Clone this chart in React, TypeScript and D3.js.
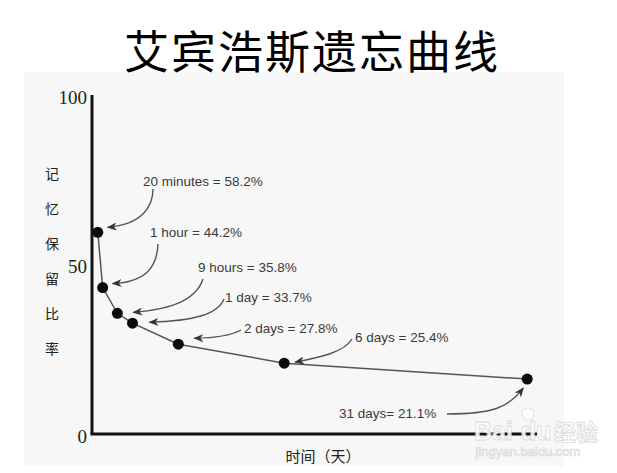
import React from "react";
import * as d3 from "d3";

// ---- data ----
const intervals = ["20 minutes", "1 hour", "9 hours", "1 day", "2 days", "6 days", "31 days"];
const retentionLabel = [58.2, 44.2, 35.8, 33.7, 27.8, 25.4, 21.1];
// plotted positions (y in % on the axis, x in 0-100 along the time axis)
const pointPos = [1.3, 2.4, 5.7, 9.1, 19.4, 43.2, 97.8];
const pointValue = [59.5, 43.2, 35.6, 32.7, 26.5, 20.9, 16.2];
const yTicks = [0, 50, 100];
const yLabelChars = ["记", "忆", "保", "留", "比", "率"];

// ---- annotation layout (pixels) ----
const annLayout = [
  { tx: 143, ty: 181, sep: " = ", path: (p: [number, number]) => `M153,189 C153,207 142,224 ${p[0] + 10},${p[1] - 5}` },
  { tx: 150, ty: 232, sep: " = ", path: (p: [number, number]) => `M158,244 C157,268 145,282 ${p[0] + 10},${p[1] - 4}` },
  { tx: 198, ty: 267, sep: " = ", path: (p: [number, number]) => `M203,279 C196,300 172,309 ${p[0] + 16},${p[1] - 1}` },
  { tx: 225, ty: 297, sep: " = ", path: (p: [number, number]) => `M224,299 C218,314 195,321 ${p[0] + 17},${p[1] - 1}` },
  { tx: 244, ty: 328, sep: " = ", path: (p: [number, number]) => `M241,330 C230,336 215,338 ${p[0] + 16},${p[1] - 6}` },
  { tx: 355, ty: 337, sep: " = ", path: (p: [number, number]) => `M352,339 C344,352 322,357 ${p[0] + 11},${p[1] - 1}` },
  { tx: 339, ty: 413, sep: "= ", path: (p: [number, number]) => `M447,414 C492,414 508,408 ${p[0] - 4},${p[1] + 9}` },
];

export default function App() {
  const W = 617, H = 473;
  const x0 = 92, x1 = 537, yBottom = 434, yTop = 95;
  const x = d3.scaleLinear().domain([0, 100]).range([x0, x1]);
  const y = d3.scaleLinear().domain([0, 100]).range([yBottom, yTop]);
  const pts: [number, number][] = pointPos.map((p, i) => [x(p), y(pointValue[i])]);
  const line = d3.line<[number, number]>()(pts) || "";

  return (
    <svg width={W} height={H} style={{ position: "absolute", left: 0, top: 0, background: "#fff" }}>
      <defs>
        <marker id="arr" viewBox="0 0 10 8" refX="9" refY="4" markerWidth="10" markerHeight="8"
          markerUnits="userSpaceOnUse" orient="auto">
          <path d="M0,0 L10,4 L0,8 L3,4 Z" fill="#333" />
        </marker>
      </defs>
      <rect x={24} y={72} width={540} height={394} fill="#f7f7f7" />
      <text x={312} y={49} textAnchor="middle" dominantBaseline="central"
        fontFamily="'Noto Sans CJK SC'" fontSize={45} letterSpacing={2} fill="#000">
        艾宾浩斯遗忘曲线
      </text>

      {/* axes */}
      <line x1={x0} y1={yTop} x2={x0} y2={yBottom} stroke="#111" strokeWidth={3} />
      <line x1={x0 - 1.5} y1={yBottom} x2={x1} y2={yBottom} stroke="#111" strokeWidth={3} />
      {yTicks.map((t) => (
        <text key={t} x={87} y={y(t) + 2} textAnchor="end" dominantBaseline="central"
          fontFamily="'Liberation Serif'" fontSize={19} fill="#222">{t}</text>
      ))}
      {yLabelChars.map((c, i) => (
        <text key={c} x={52} y={173 + i * 35} textAnchor="middle" dominantBaseline="central"
          fontFamily="'Noto Sans CJK SC'" fontSize={14} fill="#222">{c}</text>
      ))}
      <text x={323} y={455} textAnchor="middle" dominantBaseline="central"
        fontFamily="'Noto Sans CJK SC'" fontSize={15} fill="#222">时间（天）</text>

      {/* curve */}
      <path d={line} fill="none" stroke="#555" strokeWidth={1.5} />
      {pts.map((p, i) => (
        <circle key={i} cx={p[0]} cy={p[1]} r={5.5} fill="#0a0a0a" />
      ))}

      {/* annotations */}
      {annLayout.map((a, i) => (
        <g key={i}>
          <path d={a.path(pts[i])} fill="none" stroke="#555" strokeWidth={1.4} markerEnd="url(#arr)" />
          <text x={a.tx} y={a.ty} dominantBaseline="central" fontFamily="'Liberation Sans'"
            fontSize={13.5} fill="#3a3a3a">
            {`${intervals[i]}${a.sep}${retentionLabel[i]}%`}
          </text>
        </g>
      ))}

      {/* watermark */}
      <g opacity={0.9}>
        <text x={474} y={440} fontFamily="'Liberation Sans'" fontWeight="bold" fontSize={25}
          fill="#fff" stroke="#d6d6d6" strokeWidth={0.8}>Bai</text>
        <text x={536} y={440} fontFamily="'Liberation Sans'" fontWeight="bold" fontSize={25}
          fill="#fff" stroke="#d6d6d6" strokeWidth={0.8} textAnchor="middle">du</text>
        <text x={554} y={440} fontFamily="'Noto Sans CJK SC'" fontWeight="bold" fontSize={22}
          fill="#fff" stroke="#d6d6d6" strokeWidth={0.8}>经验</text>
        <circle cx={528} cy={414} r={6} fill="#fff" stroke="#d6d6d6" strokeWidth={0.8} />
        <text x={528} y={456} textAnchor="middle" fontFamily="'Liberation Sans'" fontSize={13}
          fill="#fff" stroke="#d6d6d6" strokeWidth={0.7}>jingyan.baidu.com</text>
      </g>
    </svg>
  );
}
